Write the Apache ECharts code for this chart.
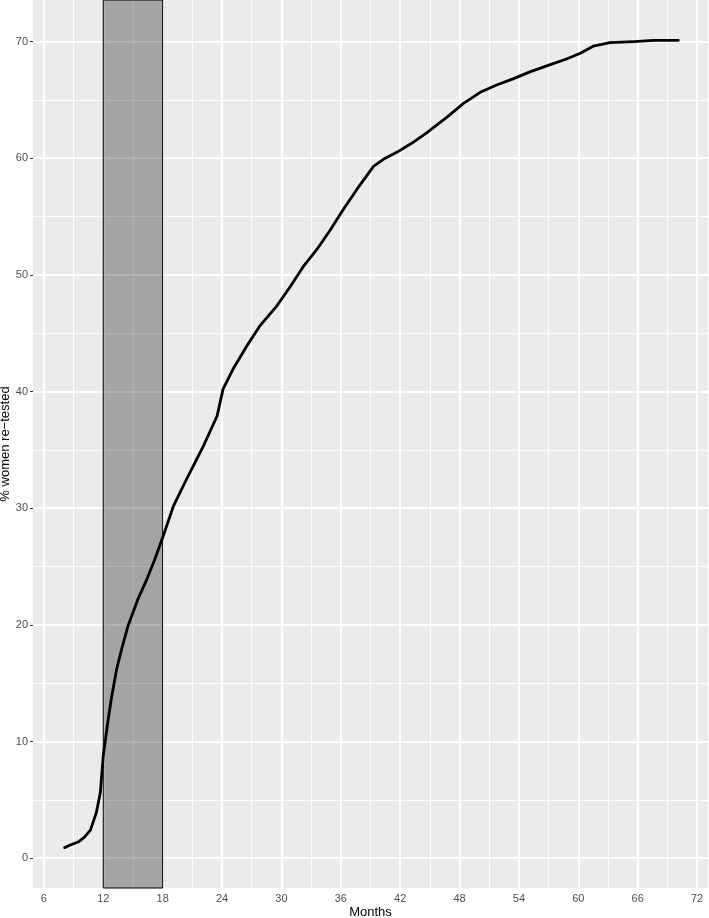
<!DOCTYPE html>
<html>
<head>
<meta charset="utf-8">
<script src="https://cdn.jsdelivr.net/npm/echarts@6/dist/echarts.min.js"></script>
<style>html,body{margin:0;padding:0;background:#fff}#c{width:709px;height:918px}</style>
</head>
<body>
<div id="c"></div>
<script>
const months = [8.1, 8.6, 9.5, 10.1, 10.7, 11.3, 11.7, 12.0, 12.4, 12.8, 13.35, 13.85, 14.5, 15.5, 16.4, 17.2, 18.05, 19.1, 20.25, 21.2, 22.1, 23.5, 24.1, 25.1, 26.5, 27.8, 29.5, 30.9, 32.2, 33.6, 34.9, 36.25, 37.6, 39.3, 40.3, 41.65, 43.2, 44.7, 46.7, 48.4, 50.2, 51.8, 53.4, 55.1, 57.1, 58.8, 60.2, 61.5, 63.2, 65.6, 67.6, 70.1];
const pct = [0.9, 1.1, 1.4, 1.8, 2.4, 3.9, 5.6, 8.8, 11.3, 13.6, 16.2, 17.9, 19.9, 22.2, 23.9, 25.6, 27.6, 30.2, 32.2, 33.8, 35.3, 37.9, 40.2, 41.9, 43.9, 45.6, 47.3, 49.0, 50.7, 52.2, 53.8, 55.6, 57.3, 59.3, 59.9, 60.5, 61.3, 62.2, 63.5, 64.7, 65.7, 66.3, 66.8, 67.4, 68.0, 68.5, 69.0, 69.6, 69.9, 70.0, 70.1, 70.1];
const xTicks = [6, 12, 18, 24, 30, 36, 42, 48, 54, 60, 66, 72];
const xMinor = [9, 15, 21, 27, 33, 39, 45, 51, 57, 63, 69];
const yTicks = [0, 10, 20, 30, 40, 50, 60, 70];
const yMinor = [5, 15, 25, 35, 45, 55, 65];
const shadeRange = [12, 18];

const chart = echarts.init(document.getElementById('c'), null, {renderer: 'canvas'});
const gridLines = [];
xTicks.forEach(v => gridLines.push({xAxis: v, lineStyle: {width: 2}}));
xMinor.forEach(v => gridLines.push({xAxis: v, lineStyle: {width: 1}}));
yTicks.forEach(v => gridLines.push({yAxis: v, lineStyle: {width: 2}}));
yMinor.forEach(v => gridLines.push({yAxis: v, lineStyle: {width: 1}}));

const font = 'Liberation Sans, Arial, sans-serif';
chart.setOption({
  animation: false,
  grid: {left: 33, right: 1, top: 0, bottom: 30, show: true, backgroundColor: '#EBEBEB', borderWidth: 0,
    containLabel: false, outerBoundsMode: 'none'},
  xAxis: {
    type: 'value', min: 4.9, max: 73.1,
    name: 'Months', nameLocation: 'middle', nameGap: 18, nameMoveOverlap: false,
    nameTextStyle: {fontFamily: font, fontSize: 13, color: '#000'},
    axisLine: {show: false},
    axisTick: {show: true, length: 3, lineStyle: {color: '#333', width: 1}, customValues: xTicks},
    axisLabel: {customValues: xTicks, fontFamily: font, fontSize: 11, color: '#4D4D4D', margin: 5},
    splitLine: {show: false}
  },
  yAxis: {
    type: 'value', min: -2.56, max: 73.56,
    name: '% women re\u2212tested', nameLocation: 'middle', nameGap: 21, nameMoveOverlap: false,
    nameTextStyle: {fontFamily: font, fontSize: 13, color: '#000'},
    axisLine: {show: false},
    axisTick: {show: true, length: 3, lineStyle: {color: '#333', width: 1}, customValues: yTicks},
    axisLabel: {customValues: yTicks, fontFamily: font, fontSize: 11, color: '#4D4D4D', margin: 5},
    splitLine: {show: false}
  },
  series: [
    {
      type: 'line', data: [], z: 1, silent: true,
      markLine: {z: 1, silent: true, symbol: 'none', label: {show: false}, animation: false,
        lineStyle: {color: '#FFFFFF', type: 'solid'}, data: gridLines}
    },
    {
      type: 'line', data: [], z: 2, silent: true,
      markArea: {z: 2, silent: true, animation: false,
        itemStyle: {color: 'rgba(0,0,0,0.3)', borderColor: '#000', borderWidth: 1},
        data: [[{xAxis: shadeRange[0]}, {xAxis: shadeRange[1]}]]}
    },
    {
      type: 'line', z: 3, showSymbol: false, smooth: false,
      lineStyle: {color: '#000', width: 2.8, join: 'round', cap: 'round'},
      data: months.map((m, i) => [m, pct[i]])
    }
  ]
});
</script>
</body>
</html>
